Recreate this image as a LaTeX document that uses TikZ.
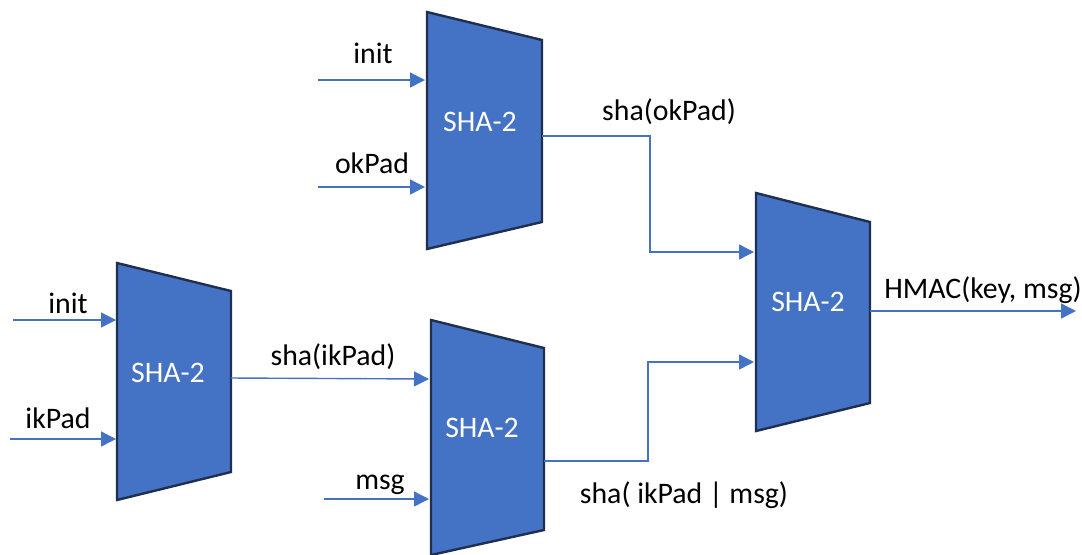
\documentclass[tikz,border=0pt]{standalone}
\usepackage{fontspec}
\setmainfont{Carlito}
\usetikzlibrary{arrows.meta}
\definecolor{shablue}{HTML}{4472C4}
\definecolor{shaedge}{HTML}{1F2F50}
\begin{document}
\begin{tikzpicture}[x=0.5pt,y=-0.5pt,
  block/.style={fill=shablue,draw=shaedge,line width=1.2pt,line join=miter},
  conn/.style={draw=shablue,line width=0.7pt,-{Triangle[length=7.5pt,width=7.5pt]}},
  lbl/.style={font=\fontsize{14.9}{17}\selectfont,text=black,inner sep=0pt},
  blk/.style={font=\fontsize{14.9}{17}\selectfont,text=white,inner sep=0pt}]
\useasboundingbox (0,0) rectangle (1082,554);

% blocks
\draw[block] (427,12) -- (542,40) -- (542,222) -- (427,249) -- cycle;
\draw[block] (117,263) -- (231,291) -- (231,472) -- (117,500) -- cycle;
\draw[block] (431,320) -- (544,348) -- (544,530) -- (431,555) -- cycle;
\draw[block] (756,193) -- (870,222) -- (870,403) -- (756,431) -- cycle;

\node[blk] (shaA) at (480,122) {SHA-2};
\node[blk] (shaB) at (168,373) {SHA-2};
\node[blk] (shaC) at (482,428) {SHA-2};
\node[blk] (shaD) at (808,302) {SHA-2};

% ports
\coordinate (A-in1) at (425,80);
\coordinate (A-in2) at (425,187);
\coordinate (A-out) at (542,136);
\coordinate (B-in1) at (116,320);
\coordinate (B-in2) at (116,439);
\coordinate (B-out) at (231,378);
\coordinate (C-in1) at (429,379);
\coordinate (C-in2) at (429,499);
\coordinate (C-out) at (544,461);
\coordinate (D-in1) at (754,252);
\coordinate (D-in2) at (754,362);
\coordinate (D-out) at (870,311);

% free ends
\coordinate (sA1) at (318,80);
\coordinate (sA2) at (318,187);
\coordinate (sB1) at (13,320);
\coordinate (sB2) at (10,439);
\coordinate (sC2) at (324,499);
\coordinate (kA) at (650,200);
\coordinate (kC) at (648,400);
\coordinate (eD) at (1076,311);

% labels
\node[lbl] (tinitA) at (373,53) {init};
\node[lbl] (tokpad) at (372,163) {okPad};
\node[lbl] (tinitB) at (68,303) {init};
\node[lbl] (tikpad) at (58,418) {ikPad};
\node[lbl] (tshaik) at (333,357) {sha(ikPad)};
\node[lbl] (tmsg) at (380,485) {msg};
\node[lbl] (tshaok) at (669,112) {sha(okPad)};
\node[lbl] (thmac) at (983,290) {HMAC(key, msg)};
\node[lbl] (tshaikmsg) at (684,495) {sha( ikPad | msg)};

% connectors
\draw[conn] (sA1) -- (A-in1);
\draw[conn] (sA2) -- (A-in2);
\draw[conn] (sB1) -- (B-in1);
\draw[conn] (sB2) -- (B-in2);
\draw[conn] (B-out) -- (C-in1);
\draw[conn] (sC2) -- (C-in2);
\draw[conn] (A-out) -| (kA) |- (D-in1);
\draw[conn] (C-out) -| (kC) |- (D-in2);
\draw[conn] (D-out) -- (eD);
\end{tikzpicture}
\end{document}
